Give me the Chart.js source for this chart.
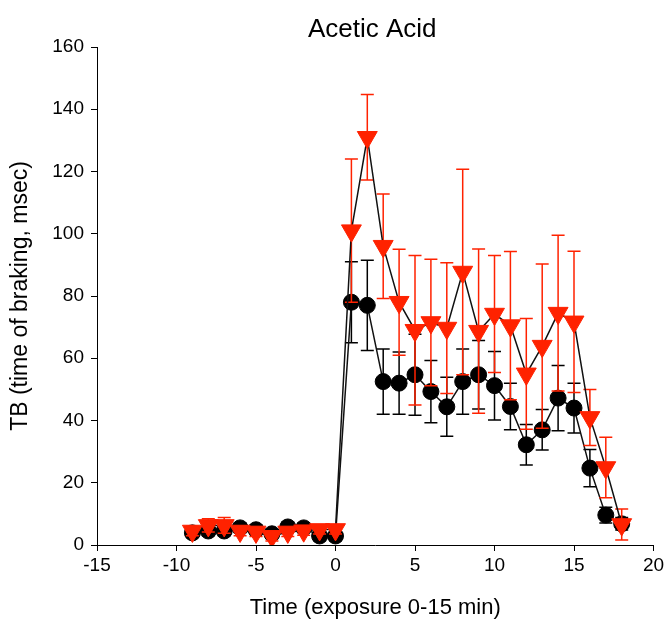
<!DOCTYPE html>
<html>
<head>
<meta charset="utf-8">
<script src="https://cdn.jsdelivr.net/npm/chart.js@4.4.0/dist/chart.umd.min.js"></script>
<style>
  html, body { margin: 0; padding: 0; background: #fff; }
  #wrap { width: 666px; height: 627px; }
</style>
</head>
<body>
<div id="wrap"><canvas id="chart" width="666" height="627"></canvas></div>
<script>
// Acetic acid exposure, time of braking
const titleText = 'Acetic Acid'
const xTitle = 'Time (exposure 0-15 min)'
const yTitle = 'TB (time of braking, msec)'

const times = [-9, -8, -7, -6, -5, -4, -3, -2, -1, 0,
  1, 2, 3, 4, 5, 6, 7, 8, 9, 10, 11, 12, 13, 14, 15, 16, 17, 18]

// black circles
const circleMean = [3.9, 4.5, 4.5, 5.5, 4.9, 3.6, 5.8, 5.5, 2.9, 2.9,
  78, 77, 52.5, 52, 54.7, 49.3, 44.4, 52.5, 54.7, 51.2, 44.5, 32.2, 37, 47.2, 44, 24.7, 9.6, 6.8]
const circleErr = [1.5, 1.5, 1.5, 1.5, 1.5, 1.5, 1.5, 1.5, 1.5, 1.5,
  13, 14.5, 10.5, 10, 13, 10, 9.5, 10.5, 11, 11, 7.5, 6.5, 6.5, 10.5, 8, 6, 2.5, 2]

// red triangles
const triMean = [4.5, 6.3, 6.3, 4.5, 4.2, 2.8, 4.2, 4.6, 5, 5,
  101, 131, 96, 78, 69, 71.5, 69.7, 87.7, 68.7, 74.2, 70.5, 55, 63.9, 74.5, 71.7, 41, 24.9, 6.6]
const triErr = [1.5, 2.1, 2.5, 1.5, 1.5, 1.5, 1.5, 1.5, 1.5, 1.5,
  23, 13.7, 16.8, 17, 24, 20.3, 21, 33, 26.4, 18.8, 23.8, 17.8, 26.4, 25, 22.7, 9, 9.7, 5]

const xTicks = [-15, -10, -5, 0, 5, 10, 15, 20]
const yTicks = [0, 20, 40, 60, 80, 100, 120, 140, 160]

const FONT = '"Liberation Sans", Arial, Helvetica, sans-serif'

const toPoints = (ys) => times.map((t, i) => ({ x: t, y: ys[i] }))

// vertical error bars drawn under each dataset's markers
const errorBars = {
  id: 'errorBars',
  beforeDatasetDraw(chart, args) {
    const ds = chart.data.datasets[args.index]
    if (!ds.errors) return
    const { ctx, scales: { x, y } } = chart
    ctx.save()
    ctx.strokeStyle = ds.errorColor
    ctx.lineWidth = 1.5
    ds.data.forEach((p, i) => {
      const px = x.getPixelForValue(p.x)
      const top = y.getPixelForValue(p.y + ds.errors[i])
      const bot = y.getPixelForValue(p.y - ds.errors[i])
      ctx.beginPath()
      ctx.moveTo(px, top)
      ctx.lineTo(px, bot)
      ctx.moveTo(px - 6.5, top)
      ctx.lineTo(px + 6.5, top)
      ctx.moveTo(px - 6.5, bot)
      ctx.lineTo(px + 6.5, bot)
      ctx.stroke()
    })
    ctx.restore()
  }
}

const chartTitle = {
  id: 'chartTitle',
  afterDraw(chart) {
    const { ctx, chartArea } = chart
    ctx.save()
    ctx.font = '26px ' + FONT
    ctx.fillStyle = '#000'
    ctx.textAlign = 'center'
    ctx.textBaseline = 'alphabetic'
    ctx.fillText(titleText, (chartArea.left + chartArea.right) / 2 - 3, 37)
    ctx.restore()
  }
}

const axisCommon = {
  type: 'linear',
  grid: { drawOnChartArea: false, drawTicks: true, tickLength: 6, color: '#000', lineWidth: 1 },
  border: { display: true, color: '#000', width: 1 },
  ticks: { color: '#000', font: { family: FONT, size: 19 } }
}

const ctx = document.getElementById('chart').getContext('2d')
new Chart(ctx, {
  type: 'line',
  data: {
    datasets: [
      {
        label: 'triangles',
        data: toPoints(triMean),
        errors: triErr,
        errorColor: '#ff2200',
        borderColor: '#111',
        borderWidth: 1.5,
        pointStyle: 'triangle',
        rotation: 180,
        pointRadius: 11.5,
        pointBackgroundColor: '#ff2200',
        pointBorderColor: '#ff2200',
        pointBorderWidth: 1,
        tension: 0,
        order: 1
      },
      {
        label: 'circles',
        data: toPoints(circleMean),
        errors: circleErr,
        errorColor: '#000',
        borderColor: '#111',
        borderWidth: 1.5,
        pointStyle: 'circle',
        pointRadius: 8,
        pointBackgroundColor: '#000',
        pointBorderColor: '#000',
        pointBorderWidth: 1,
        tension: 0,
        order: 2
      }
    ]
  },
  options: {
    responsive: false,
    animation: false,
    layout: { padding: { top: 47, right: 11, left: 0, bottom: 0 } },
    plugins: {
      legend: { display: false },
      title: { display: false },
      tooltip: { enabled: false }
    },
    scales: {
      x: {
        ...axisCommon,
        position: 'bottom',
        min: -15,
        max: 20,
        ticks: { ...axisCommon.ticks, padding: 3, maxRotation: 0 },
        afterBuildTicks: (s) => { s.ticks = xTicks.map(v => ({ value: v })) },
        afterFit: (s) => {
          s.height = 82
          s.paddingLeft = 0
          s.paddingRight = 0
        },
        title: {
          display: true,
          text: xTitle,
          color: '#000',
          font: { family: FONT, size: 22 },
          padding: { top: 0, bottom: 6 }
        }
      },
      y: {
        ...axisCommon,
        position: 'left',
        min: 0,
        max: 160,
        ticks: { ...axisCommon.ticks, padding: 7 },
        afterBuildTicks: (s) => { s.ticks = yTicks.map(v => ({ value: v })) },
        afterFit: (s) => { s.width = 97 },
        title: {
          display: true,
          text: yTitle,
          color: '#000',
          font: { family: FONT, size: 23 },
          padding: { top: 7, bottom: 0 }
        }
      }
    }
  },
  plugins: [errorBars, chartTitle]
})
</script>
</body>
</html>
